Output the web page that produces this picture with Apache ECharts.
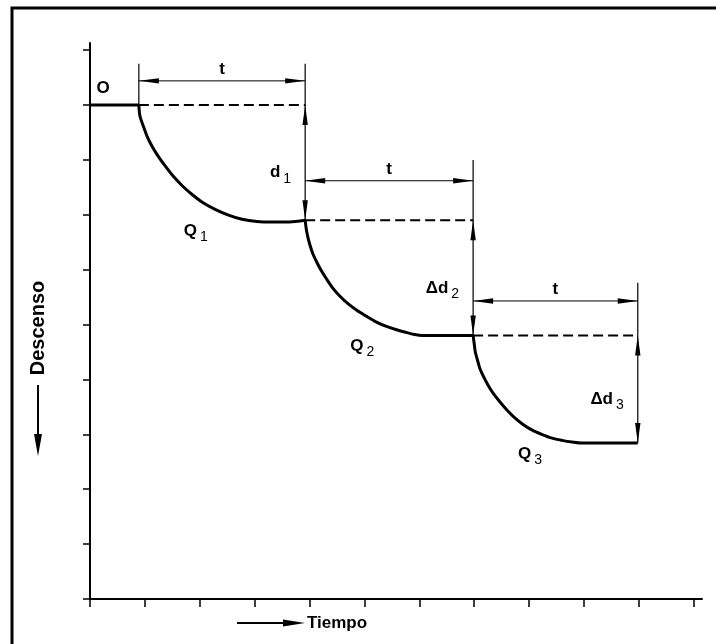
<!DOCTYPE html>
<html>
<head>
<meta charset="utf-8">
<title>Descenso - Tiempo</title>
<script src="https://cdn.jsdelivr.net/npm/echarts@6/dist/echarts.min.js"></script>
<style>
  html, body { margin: 0; padding: 0; background: #fff; }
  #chart { width: 716px; height: 644px; }
</style>
</head>
<body>
<div id="chart"></div>
<script>
// tick marks on both axes (grid units)
const tiempoTicks = [0, 1, 2, 3, 4, 5, 6, 7, 8, 9, 10, 11];
const descensoTicks = [-1, 0, 1, 2, 3, 4, 5, 6, 7, 8, 9];

// pumping steps: start / end time and descenso before / after each one
const stepStart = [0.89, 3.92, 6.98];
const stepEnd = [3.92, 6.98, 9.98];
const levelBefore = [0, 2.1, 4.2];
const levelAfter = [2.1, 4.2, 6.16];
const stepIndex = ['1', '2', '3'];
const dropNames = ['d', 'Δd', 'Δd'];
// descenso where the "t" dimension line sits, and top of the extension lines
const tLineAt = [-0.44, 1.38, 3.57];
const extTop = [-0.75, 1.0, 3.24];

// the curve (tiempo, descenso)
const staticLevel = [[0, 0], [0.89, 0]];
const curveQ1 = [[0.89, 0], [0.91, 0.2], [0.97, 0.38], [1.04, 0.57], [1.13, 0.75], [1.24, 0.93],
  [1.37, 1.11], [1.51, 1.29], [1.68, 1.47], [1.86, 1.63], [2.06, 1.78], [2.28, 1.9], [2.51, 2.0],
  [2.77, 2.08], [3.04, 2.12], [3.33, 2.13], [3.63, 2.13], [3.92, 2.1]];
const curveQ2 = [[3.92, 2.1], [3.94, 2.26], [3.97, 2.41], [4.01, 2.56], [4.06, 2.71], [4.13, 2.86],
  [4.21, 3.01], [4.31, 3.17], [4.42, 3.33], [4.55, 3.48], [4.7, 3.62], [4.86, 3.74], [5.03, 3.845],
  [5.21, 3.95], [5.39, 4.03], [5.57, 4.09], [5.75, 4.14], [5.91, 4.18], [6.05, 4.2], [6.98, 4.2]];
const curveQ3 = [[6.98, 4.2], [7.0, 4.35], [7.02, 4.5], [7.06, 4.65], [7.1, 4.79], [7.17, 4.95],
  [7.25, 5.1], [7.35, 5.26], [7.47, 5.41], [7.6, 5.56], [7.74, 5.7], [7.89, 5.82], [8.05, 5.92],
  [8.23, 6.0], [8.42, 6.07], [8.6, 6.11], [8.78, 6.14], [8.96, 6.16], [9.14, 6.16], [9.98, 6.16]];

const FONT = '"Liberation Sans", Arial, sans-serif';

function head(tip, dir, len, half) {
  // thin triangular arrow head, dir points towards the tip
  const bx = tip[0] - dir[0] * len;
  const by = tip[1] - dir[1] * len;
  return {
    type: 'polygon',
    shape: { points: [tip, [bx - dir[1] * half, by + dir[0] * half], [bx + dir[1] * half, by - dir[0] * half]] },
    style: { fill: '#000' }
  };
}

function line(a, b, w, dash) {
  return {
    type: 'line',
    shape: { x1: a[0], y1: a[1], x2: b[0], y2: b[1] },
    style: { stroke: '#000', lineWidth: w, lineDash: dash || null }
  };
}

function label(x, y, main, sub, align, vAlign) {
  return {
    type: 'text',
    x: x, y: y,
    style: {
      text: sub ? '{m|' + main + '}{s|' + sub + '}' : '{m|' + main + '}',
      align: align, verticalAlign: vAlign,
      rich: {
        m: { fontFamily: FONT, fontSize: 17, fontWeight: 'bold', fill: '#000' },
        s: { fontFamily: FONT, fontSize: 14, fill: '#000', padding: [12, 0, 0, 3] }
      }
    }
  };
}

function renderStep(params, api) {
  const x0 = api.value(0), x1 = api.value(1);
  const lb = api.value(2), la = api.value(3);
  const tl = api.value(4), et = api.value(5);
  const i = params.dataIndex;
  const pBefore0 = api.coord([x0, lb]);
  const pBefore1 = api.coord([x1, lb]);
  const pAfter1 = api.coord([x1, la]);
  const pT0 = api.coord([x0, tl]);
  const pT1 = api.coord([x1, tl]);
  const pTop1 = api.coord([x1, et]);
  const kids = [];
  // dashed continuation of the previous level
  kids.push(line(pBefore0, pBefore1, 2, [10, 5]));
  // extension lines
  if (i === 0) kids.push(line(api.coord([x0, et]), pBefore0, 1.2));
  kids.push(line(pTop1, pAfter1, 1.2));
  // "t" dimension
  kids.push(line(pT0, pT1, 1));
  kids.push(head(pT0, [-1, 0], 20, 2.7));
  kids.push(head(pT1, [1, 0], 20, 2.7));
  kids.push(label((pT0[0] + pT1[0]) / 2, pT0[1] - 3, 't', null, 'center', 'bottom'));
  // drawdown dimension
  kids.push(head(pBefore1, [0, -1], 20, 2.7));
  kids.push(head(pAfter1, [0, 1], 20, 2.7));
  kids.push(label(pBefore1[0] - 14, (pBefore1[1] + pAfter1[1]) / 2 + 10, dropNames[i], stepIndex[i], 'right', 'middle'));
  // Q label under the curve
  const pQ = api.coord([x0, la]);
  kids.push(label(pQ[0] + 57, pQ[1] - 2, 'Q', stepIndex[i], 'center', 'top'));
  if (i === 0) {
    const o = api.coord([0, lb]);
    kids.push(label(o[0] + 13, o[1] - 8, 'O', null, 'center', 'bottom'));
  }
  return { type: 'group', children: kids };
}

const chart = echarts.init(document.getElementById('chart'), null, { renderer: 'canvas' });

const curveStyle = { color: '#000', width: 3 };

chart.setOption({
  animation: false,
  backgroundColor: '#fff',
  grid: { left: 90, top: 43, width: 612, height: 556 },
  xAxis: {
    type: 'value', min: 0, max: 11.15,
    axisLine: { onZero: false, lineStyle: { color: '#000', width: 2 } },
    axisTick: { show: true, length: 8, customValues: tiempoTicks, lineStyle: { color: '#000', width: 1.5 } },
    axisLabel: { show: false },
    splitLine: { show: false }
  },
  yAxis: {
    type: 'value', inverse: true, min: -1.13, max: 9,
    axisLine: { onZero: false, lineStyle: { color: '#000', width: 2 } },
    axisTick: { show: true, length: 7, customValues: descensoTicks, lineStyle: { color: '#000', width: 1.5 } },
    axisLabel: { show: false },
    splitLine: { show: false }
  },
  series: [
    { type: 'line', name: 'O', data: staticLevel, showSymbol: false, lineStyle: curveStyle },
    { type: 'line', name: 'Q1', data: curveQ1, smooth: 0.3, showSymbol: false, lineStyle: curveStyle },
    { type: 'line', name: 'Q2', data: curveQ2, smooth: 0.3, showSymbol: false, lineStyle: curveStyle },
    { type: 'line', name: 'Q3', data: curveQ3, smooth: 0.3, showSymbol: false, lineStyle: curveStyle },
    {
      type: 'custom',
      renderItem: renderStep,
      clip: false,
      data: stepStart.map((x, i) => [x, stepEnd[i], levelBefore[i], levelAfter[i], tLineAt[i], extTop[i]])
    }
  ],
  graphic: [
    // frame (only top and left edges are inside the picture)
    { type: 'rect', shape: { x: 12, y: 8, width: 760, height: 700 }, style: { fill: null, stroke: '#000', lineWidth: 3 } },
    // axis titles with their arrows
    { type: 'text', x: 38, y: 328, rotation: Math.PI / 2,
      style: { text: 'Descenso', font: 'bold 20px ' + FONT, fill: '#000', align: 'center', verticalAlign: 'middle' } },
    { type: 'line', shape: { x1: 38, y1: 385, x2: 38, y2: 440 }, style: { stroke: '#000', lineWidth: 2 } },
    { type: 'polygon', shape: { points: [[38, 456], [34, 434], [42, 434]] }, style: { fill: '#000' } },
    { type: 'text', x: 307, y: 623,
      style: { text: 'Tiempo', font: 'bold 17px ' + FONT, fill: '#000', align: 'left', verticalAlign: 'middle' } },
    { type: 'line', shape: { x1: 237, y1: 623, x2: 290, y2: 623 }, style: { stroke: '#000', lineWidth: 2 } },
    { type: 'polygon', shape: { points: [[305, 623], [283, 619.5], [283, 626.5]] }, style: { fill: '#000' } }
  ]
});
</script>
</body>
</html>
